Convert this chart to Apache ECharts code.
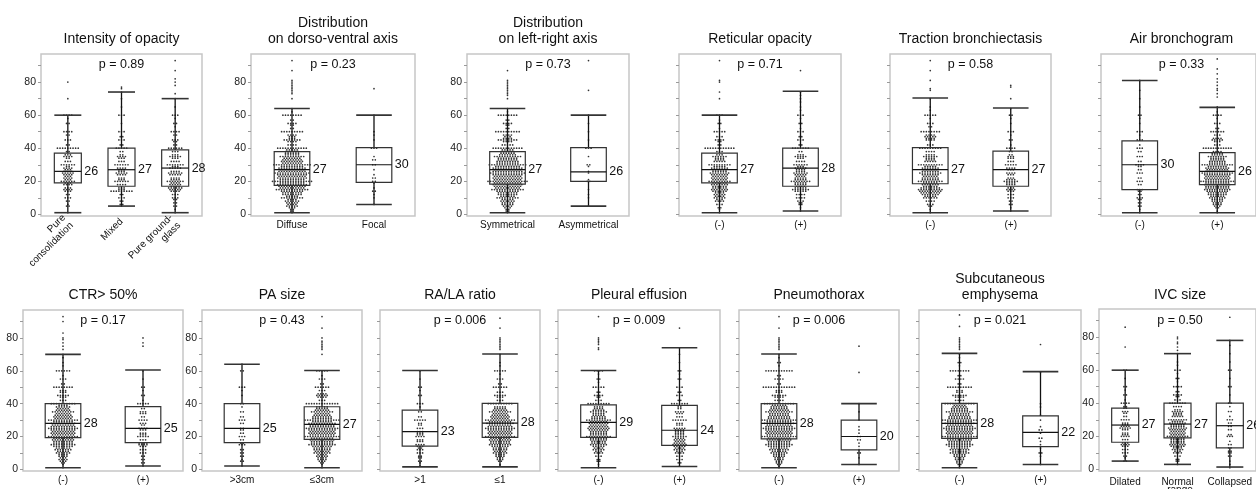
<!DOCTYPE html>
<html>
<head>
<meta charset="utf-8">
<script src="https://cdn.jsdelivr.net/npm/echarts@6/dist/echarts.min.js"></script>
<style>
html, body { margin: 0; padding: 0; background: #fff; }
#main { width: 1256px; height: 489px; }
</style>
</head>
<body>
<div id="main"></div>
<script>
var FONT = '"Liberation Sans", Arial, Helvetica, sans-serif';

// ---------------------------------------------------------------- data
var panelTitles = ['Intensity of opacity', 'Distribution\non dorso-ventral axis', 'Distribution\non left-right axis',
  'Reticular opacity', 'Traction bronchiectasis', 'Air bronchogram', 'CTR> 50%', 'PA size', 'RA/LA ratio',
  'Pleural effusion', 'Pneumothorax', 'Subcutaneous\nemphysema', 'IVC size'];

var panelCategories = [
  ['Pure\nconsolidation', 'Mixed', 'Pure ground-\nglass'],
  ['Diffuse', 'Focal'],
  ['Symmetrical', 'Asymmetrical'],
  ['(-)', '(+)'], ['(-)', '(+)'], ['(-)', '(+)'], ['(-)', '(+)'],
  ['>3cm', '≤3cm'],
  ['>1', '≤1'],
  ['(-)', '(+)'], ['(-)', '(+)'], ['(-)', '(+)'],
  ['Dilated', 'Normal', 'Collapsed']
];
// second line of the IVC "Normal range" label, cut by the picture edge
var ivcNormalSecondLine = 'range';

var pValues = ['0.89', '0.23', '0.73', '0.71', '0.58', '0.33', '0.17', '0.43', '0.006', '0.009', '0.006', '0.021', '0.50'];

var medianLabels = [[26, 27, 28], [27, 30], [27, 26], [27, 28], [27, 27], [30, 26], [28, 25], [25, 27], [23, 28],
  [29, 24], [28, 20], [28, 22], [27, 27, 26]];

// [low whisker, Q1, median, Q3, high whisker]
var boxStats = [
  [[1, 19, 26, 37, 60], [5, 17, 27, 40, 74], [1, 17, 28, 39, 70]],
  [[1, 17.5, 27, 38, 64], [6, 19.3, 30, 40.4, 60]],
  [[1, 18.3, 27, 38, 64], [5, 20, 25.7, 40.4, 60]],
  [[1, 19, 27, 37, 60], [2, 17, 28, 40, 74.5]],
  [[1, 18.5, 27, 40.4, 70.4], [2, 17, 27, 38.2, 64.3]],
  [[1, 15, 30, 44.4, 81], [1, 18, 26, 37.3, 64.7]],
  [[1, 19.3, 28, 40, 70], [2, 16.3, 25, 38.2, 60.5]],
  [[2, 16.3, 25, 40, 64], [1, 18.3, 27.4, 38.1, 60.2]],
  [[1.5, 14.2, 23, 36.1, 60.2], [1.5, 19.5, 28.2, 40.2, 70.2]],
  [[1, 19.5, 28.6, 39.2, 60.2], [1.7, 14.6, 23.8, 39, 74]],
  [[1, 18.5, 28, 40, 70.2], [3, 11.8, 20, 30, 40]],
  [[1, 18.9, 28, 40.2, 70.6], [3, 13.8, 22.5, 32.5, 59.5]],
  [[5, 16.4, 26.8, 37, 60], [3, 19, 27.4, 40, 70], [1.4, 13, 26.4, 40, 78]]
];

var outlierValues = [
  [[70, 80], [76, 77], [73, 78, 80, 82, 87, 93]],
  [[70, 73, 74, 75, 76, 77, 78, 79, 80, 81, 87, 93], [76]],
  [[70, 72, 73, 74, 75, 76, 77, 78, 79, 80, 81, 87], [75, 93]],
  [[70, 74, 80, 81, 93], [87]],
  [[75, 76, 81, 87, 93], [70, 77, 78]],
  [[], [71, 73, 75, 76, 78, 80, 82, 85, 88, 94]],
  [[73, 75, 77, 79, 80, 83, 90, 93], [75, 77, 80]],
  [[], [70, 73, 74, 75, 76, 77, 78, 80, 86, 93]],
  [[], [73, 74, 75, 76, 77, 78, 79, 80, 86, 92]],
  [[73, 74, 76, 77, 78, 79, 80, 93], [86]],
  [[73, 74, 75, 76, 77, 78, 79, 80, 86, 93], [59, 75]],
  [[73, 74, 75, 76, 77, 78, 79, 80, 87, 94], [76]],
  [[74, 86], [72, 74, 76, 77, 79, 80], [92]]
];

// dot rows inside the whiskers: [value, number of dots]
var swarmIntensity = [
  [[1,1],[5,2],[6,1],[8,2],[10,3],[12,2],[14,3],[15,4],[16,3],[18,4],[19,3],[20,6],[21,3],[22,4],[23,3],[24,4],[25,5],[26,4],[27,3],[28,4],[29,2],[30,6],[32,3],[34,2],[35,4],[36,3],[38,2],[40,9],[42,2],[45,3],[48,2],[50,4],[55,2],[58,1],[60,4]],
  [[5,1],[6,2],[8,2],[10,3],[12,2],[14,9],[15,3],[16,3],[18,4],[20,6],[21,3],[22,3],[24,4],[25,5],[26,3],[27,3],[28,4],[30,6],[32,3],[34,3],[35,4],[36,2],[38,2],[40,5],[42,2],[45,3],[47,2],[50,3],[55,1],[60,3],[65,1],[70,1],[74,1]],
  [[1,1],[3,1],[5,2],[7,2],[9,2],[10,3],[12,3],[14,4],[15,5],[16,6],[17,4],[18,5],[19,4],[20,7],[21,4],[22,4],[24,5],[25,6],[26,4],[28,5],[29,3],[30,7],[32,4],[34,3],[35,5],[36,3],[38,3],[40,6],[42,2],[44,2],[45,3],[48,2],[50,4],[53,1],[55,2],[58,1],[60,3],[65,1],[70,1]]
];
var swarmDorsoVentral = [
  [[1,1],[2,2],[3,2],[4,3],[5,5],[6,4],[7,5],[8,6],[9,4],[10,9],[11,5],[12,8],[13,8],[14,9],[15,13],[16,10],[17,11],[18,12],[19,10],[20,16],[21,10],[22,12],[23,11],[24,12],[25,14],[26,11],[27,10],[28,11],[29,9],[30,15],[31,8],[32,9],[33,8],[34,7],[35,10],[36,6],[37,6],[38,6],[39,5],[40,12],[42,4],[44,4],[45,7],[46,3],[47,3],[48,4],[50,9],[52,2],[54,2],[55,4],[57,2],[60,8],[62,1],[64,1]],
  [[6,1],[10,1],[12,1],[14,2],[16,1],[19,1],[20,2],[22,2],[24,1],[27,1],[30,2],[33,2],[35,1],[40,3],[45,1],[48,1],[50,1],[60,1]]
];
var swarmLeftRight = [
  [[1,1],[2,2],[3,2],[4,3],[5,4],[6,5],[7,5],[8,6],[9,5],[10,9],[11,6],[12,8],[13,8],[14,9],[15,13],[16,10],[17,11],[18,12],[19,11],[20,16],[21,11],[22,12],[23,11],[24,12],[25,14],[26,12],[27,11],[28,12],[29,10],[30,15],[31,9],[32,9],[33,8],[34,8],[35,11],[36,7],[37,6],[38,6],[39,5],[40,12],[42,5],[44,4],[45,8],[46,4],[47,3],[48,4],[50,10],[52,2],[54,2],[55,4],[57,2],[60,8],[62,1],[64,1]],
  [[5,1],[10,1],[12,1],[15,1],[20,2],[21,1],[25,1],[26,1],[29,1],[30,2],[35,1],[40,3],[45,1],[50,1],[55,1],[60,1]]
];
var swarmReticular = [
  [[1,1],[3,1],[4,2],[6,3],[8,4],[9,3],[10,5],[11,4],[12,5],[13,4],[14,6],[15,7],[16,6],[17,6],[18,7],[19,6],[20,9],[21,6],[22,7],[23,6],[24,7],[25,8],[26,6],[27,6],[28,7],[29,5],[30,9],[32,5],[33,4],[34,4],[35,6],[36,3],[38,3],[40,12],[42,2],[44,2],[45,4],[47,3],[50,5],[52,1],[55,2],[57,1],[60,3]],
  [[2,1],[4,1],[6,2],[7,2],[8,3],[10,4],[12,4],[14,5],[15,7],[16,5],[17,4],[18,5],[19,5],[20,8],[21,5],[22,5],[23,4],[24,5],[25,6],[26,4],[27,4],[28,5],[29,3],[30,6],[32,4],[34,3],[35,5],[36,3],[38,2],[40,7],[42,2],[45,3],[47,2],[50,3],[52,1],[55,2],[58,1],[60,3],[63,1],[65,1],[68,1],[70,1],[72,1],[74,1]]
];
var swarmTraction = [
  [[1,1],[3,1],[5,2],[6,3],[8,4],[10,6],[11,5],[12,7],[13,8],[14,9],[15,10],[16,8],[17,6],[18,7],[19,6],[20,10],[21,7],[22,7],[23,6],[24,7],[25,9],[26,7],[27,6],[28,7],[29,5],[30,10],[32,5],[33,4],[34,4],[35,6],[36,4],[38,4],[40,9],[42,3],[45,4],[46,4],[47,5],[48,4],[50,8],[53,2],[55,3],[58,1],[60,5],[63,1],[65,1],[70,1]],
  [[2,1],[4,1],[6,2],[8,2],[10,3],[12,3],[14,3],[15,4],[16,3],[18,4],[19,4],[20,6],[21,4],[22,3],[24,3],[25,4],[27,3],[28,4],[30,5],[32,3],[34,3],[35,3],[36,2],[38,2],[40,4],[42,1],[45,2],[48,1],[50,3],[55,1],[58,1],[60,2],[64,1]]
];
var swarmAirBronchogram = [
  [[1,1],[3,1],[5,2],[7,2],[9,2],[10,3],[12,2],[14,2],[15,3],[18,2],[20,3],[22,2],[25,3],[27,2],[29,2],[30,4],[32,2],[35,3],[38,2],[40,3],[42,1],[45,3],[48,1],[50,3],[55,1],[58,1],[60,2],[65,1],[70,1],[75,1],[81,1]],
  [[1,1],[2,1],[4,2],[5,3],[6,4],[7,4],[8,5],[9,5],[10,7],[11,6],[12,8],[13,8],[14,9],[15,11],[16,10],[17,10],[18,11],[19,10],[20,14],[21,10],[22,11],[23,10],[24,11],[25,13],[26,10],[27,9],[28,10],[29,8],[30,13],[31,7],[32,7],[33,6],[34,6],[35,8],[36,5],[37,5],[38,4],[40,12],[42,3],[44,3],[45,5],[46,4],[48,3],[50,6],[52,2],[55,3],[58,1],[60,4],[62,1],[65,1]]
];
var swarmCTR = [
  [[1,1],[3,1],[4,2],[5,3],[6,4],[7,3],[8,4],[9,4],[10,6],[11,5],[12,7],[13,6],[14,8],[15,10],[16,8],[17,8],[18,9],[19,8],[20,12],[21,9],[22,10],[23,9],[24,10],[25,12],[26,10],[27,9],[28,10],[29,8],[30,12],[31,7],[32,8],[33,7],[34,6],[35,9],[36,6],[37,5],[38,6],[39,4],[40,10],[42,3],[44,3],[45,5],[47,3],[48,3],[50,8],[52,2],[55,3],[57,1],[60,6],[63,1],[65,1],[68,1],[70,1]],
  [[2,1],[4,2],[6,2],[8,2],[10,3],[12,3],[14,3],[15,4],[16,4],[18,3],[20,5],[21,3],[22,3],[24,3],[25,4],[27,2],[28,3],[30,4],[32,2],[34,3],[35,3],[37,2],[40,5],[42,1],[45,2],[48,1],[50,2],[55,1],[60,1]]
];
var swarmPASize = [
  [[2,1],[5,2],[6,1],[8,2],[10,2],[12,2],[15,3],[16,2],[18,2],[20,3],[22,2],[24,2],[25,2],[28,2],[30,3],[32,2],[35,2],[38,1],[40,2],[45,1],[48,1],[50,3],[60,2],[64,1]],
  [[1,1],[3,1],[4,2],[5,3],[6,4],[7,4],[8,5],[9,4],[10,7],[11,6],[12,7],[13,7],[14,8],[15,11],[16,9],[17,9],[18,10],[19,9],[20,14],[21,10],[22,11],[23,10],[24,11],[25,13],[26,10],[27,10],[28,11],[29,8],[30,14],[31,8],[32,8],[33,7],[34,6],[35,9],[36,6],[37,5],[38,5],[40,13],[42,3],[44,4],[45,5],[46,4],[48,3],[50,6],[52,2],[55,3],[57,1],[60,5]]
];
var swarmRALA = [
  [[2,1],[4,1],[5,2],[7,2],[8,2],[10,3],[12,3],[13,2],[14,3],[15,4],[17,3],[18,3],[20,4],[21,3],[22,3],[23,3],[25,3],[27,2],[28,2],[30,5],[32,2],[35,2],[38,1],[40,3],[45,2],[48,1],[50,2],[55,1],[60,1]],
  [[2,1],[3,1],[5,2],[6,3],[7,3],[8,4],[9,4],[10,6],[11,5],[12,6],[13,6],[14,7],[15,9],[16,8],[17,8],[18,9],[19,8],[20,12],[21,9],[22,10],[23,9],[24,10],[25,12],[26,10],[27,9],[28,11],[29,9],[30,12],[31,7],[32,8],[33,7],[34,6],[35,9],[36,6],[37,5],[38,5],[40,10],[42,3],[44,3],[45,5],[47,3],[50,6],[52,2],[55,3],[58,1],[60,5],[63,1],[65,1],[70,1]]
];
var swarmPleural = [
  [[1,1],[3,1],[5,2],[6,2],[8,3],[10,4],[11,3],[12,5],[13,4],[14,5],[15,7],[16,6],[17,6],[18,7],[19,7],[20,10],[21,7],[22,7],[23,7],[24,8],[25,9],[26,8],[27,7],[28,8],[29,7],[30,10],[31,6],[32,6],[33,5],[34,5],[35,7],[36,5],[37,4],[38,4],[40,9],[42,3],[44,2],[45,4],[47,2],[50,5],[53,1],[55,2],[58,1],[60,4]],
  [[2,1],[4,2],[6,3],[8,3],[10,4],[11,3],[12,5],[13,4],[14,5],[15,6],[16,5],[17,4],[18,5],[19,4],[20,6],[21,4],[22,4],[23,4],[24,4],[25,5],[27,3],[28,3],[30,6],[32,3],[34,3],[35,4],[37,2],[38,2],[40,7],[42,2],[45,3],[47,2],[50,3],[55,2],[58,1],[60,2],[65,1],[70,1],[74,1]]
];
var swarmPneumothorax = [
  [[1,1],[2,1],[3,2],[4,3],[5,3],[6,4],[7,4],[8,5],[9,5],[10,7],[11,6],[12,8],[13,7],[14,9],[15,11],[16,9],[17,9],[18,10],[19,9],[20,14],[21,10],[22,11],[23,10],[24,11],[25,13],[26,11],[27,10],[28,12],[29,10],[30,14],[31,9],[32,9],[33,8],[34,8],[35,11],[36,8],[37,7],[38,7],[39,6],[40,12],[42,4],[44,4],[45,6],[47,3],[48,3],[50,13],[52,2],[55,4],[57,2],[60,11],[63,1],[65,2],[68,1],[70,1]],
  [[3,1],[7,1],[10,2],[12,1],[14,1],[16,1],[18,2],[20,2],[22,1],[24,1],[26,1],[30,1],[35,1],[40,1]]
];
var swarmSubcutaneous = [
  [[1,1],[2,1],[3,2],[4,3],[5,3],[6,4],[7,4],[8,5],[9,5],[10,8],[11,6],[12,8],[13,7],[14,9],[15,11],[16,9],[17,9],[18,10],[19,10],[20,14],[21,10],[22,11],[23,10],[24,11],[25,13],[26,11],[27,10],[28,12],[29,10],[30,14],[31,9],[32,9],[33,8],[34,8],[35,11],[36,7],[37,7],[38,6],[39,5],[40,12],[42,4],[44,4],[45,6],[47,3],[48,3],[50,10],[52,2],[55,4],[57,2],[60,8],[63,1],[65,2],[68,1],[70,1]],
  [[3,1],[8,1],[10,2],[13,1],[15,1],[17,1],[19,2],[22,1],[24,2],[26,1],[30,1],[33,1],[38,1],[40,1],[59,1]]
];
var swarmIVC = [
  [[5,2],[7,1],[8,2],[10,3],[12,3],[14,3],[15,4],[16,3],[18,3],[20,4],[21,3],[22,3],[24,3],[25,5],[26,4],[27,3],[28,3],[30,4],[32,2],[34,2],[35,3],[37,2],[38,2],[40,4],[42,1],[45,2],[48,1],[50,2],[55,1],[60,2]],
  [[3,1],[5,2],[6,2],[8,3],[10,4],[11,3],[12,5],[13,4],[14,6],[15,7],[16,6],[17,6],[18,6],[19,6],[20,9],[21,6],[22,7],[23,6],[24,7],[25,8],[26,6],[27,6],[28,7],[29,5],[30,8],[32,5],[33,4],[34,4],[35,5],[36,3],[38,4],[40,7],[42,3],[44,2],[45,4],[47,2],[50,4],[53,1],[55,2],[58,1],[60,3],[63,1],[65,1],[70,1]],
  [[1,1],[3,1],[5,1],[8,2],[10,2],[11,2],[13,2],[15,2],[17,1],[20,3],[21,2],[24,2],[26,2],[28,2],[30,3],[32,1],[35,2],[38,1],[40,2],[45,1],[50,2],[55,1],[60,2],[65,1],[70,1],[75,1],[78,1]]
];
var swarms = [swarmIntensity, swarmDorsoVentral, swarmLeftRight, swarmReticular, swarmTraction, swarmAirBronchogram,
  swarmCTR, swarmPASize, swarmRALA, swarmPleural, swarmPneumothorax, swarmSubcutaneous, swarmIVC];

// ---------------------------------------------------------------- layout
// plot frame of every panel: left, top, width, height (px)
var panelBoxes = [
  [41, 54, 161, 162], [251, 54, 164, 162], [467, 54, 162, 162], [679, 54, 162, 162], [890, 54, 161, 162], [1101, 54, 161, 162],
  [23, 310, 160, 161], [202, 310, 160, 161], [380, 310, 160, 161], [558, 310, 162, 161], [739, 310, 160, 161], [919, 310, 162, 161], [1099, 309, 162, 162]
];
var showYLabels = [true, true, true, false, false, false, true, true, false, false, false, false, true];
var DOT_GAP = 2.6;

function makeBoxRenderer(half, gap) {
  return function (params, api) {
    var x = api.value(0);
    var lo = api.coord([x, api.value(1)]);
    var q1 = api.coord([x, api.value(2)]);
    var md = api.coord([x, api.value(3)]);
    var q3 = api.coord([x, api.value(4)]);
    var hi = api.coord([x, api.value(5)]);
    var cx = lo[0];
    var seg = function (x1, y1, x2, y2, w, c) {
      return { type: 'line', shape: { x1: x1, y1: y1, x2: x2, y2: y2 }, style: { stroke: c, lineWidth: w } };
    };
    return {
      type: 'group',
      children: [
        seg(cx, q1[1], cx, lo[1], 1.3, '#111'),
        seg(cx, hi[1], cx, q3[1], 1.3, '#111'),
        seg(cx - half, lo[1], cx + half, lo[1], 1.6, '#333'),
        seg(cx - half, hi[1], cx + half, hi[1], 1.6, '#333'),
        { type: 'rect', shape: { x: cx - half, y: q3[1], width: 2 * half, height: q1[1] - q3[1] },
          style: { fill: 'none', stroke: '#333', lineWidth: 1.2 } },
        seg(cx - half, md[1], cx + half, md[1], 1.2, '#111'),
        { type: 'text', style: { text: String(api.value(6)), x: cx + half + gap, y: md[1],
          textAlign: 'left', textVerticalAlign: 'middle', align: 'left', verticalAlign: 'middle',
          font: '12.5px ' + FONT, fill: '#111' } }
      ]
    };
  };
}

var option = { animation: false, grid: [], xAxis: [], yAxis: [], series: [], graphic: [] };

panelBoxes.forEach(function (b, p) {
  var cats = panelCategories[p];
  var n = cats.length;
  var top = p < 6;
  var cx = b[0] + b[2] / 2;

  option.grid.push({ left: b[0], top: b[1], width: b[2], height: b[3], show: true,
    borderColor: '#c6c6c6', borderWidth: 1.5, backgroundColor: 'transparent' });

  option.xAxis.push({
    gridIndex: p, type: 'value', min: 0.5, max: n + 0.5,
    axisLine: { show: false }, axisTick: { show: false }, splitLine: { show: false },
    axisLabel: {
      customValues: cats.map(function (c, i) { return i + 1; }),
      formatter: function (v) { return cats[Math.round(v) - 1]; },
      fontFamily: FONT, fontSize: 10, color: '#111', margin: p === 12 ? 6 : 4, lineHeight: 11,
      rotate: p === 0 ? 45 : 0
    }
  });

  option.yAxis.push({
    gridIndex: p, type: 'value', min: -1, max: 97,
    axisLine: { show: false }, splitLine: { show: false },
    axisTick: { show: true, length: 3, customValues: [0, 10, 20, 30, 40, 50, 60, 70, 80, 90],
      lineStyle: { color: '#9a9a9a', width: 1 } },
    axisLabel: { show: showYLabels[p], customValues: [0, 20, 40, 60, 80],
      fontFamily: FONT, fontSize: 10.5, color: '#222', margin: 5 }
  });

  // dots
  var pxPerUnit = b[2] / n;
  var pts = [];
  swarms[p].forEach(function (rows, g) {
    rows.forEach(function (r) {
      for (var k = 0; k < r[1]; k++) {
        pts.push([g + 1 + (k - (r[1] - 1) / 2) * DOT_GAP / pxPerUnit, r[0]]);
      }
    });
  });
  outlierValues[p].forEach(function (vals, g) {
    vals.forEach(function (v) { pts.push([g + 1, v]); });
  });
  option.series.push({
    type: 'scatter', xAxisIndex: p, yAxisIndex: p, data: pts, symbolSize: 1.7, silent: true,
    itemStyle: { color: '#000' }, z: 2
  });

  // boxes
  option.series.push({
    type: 'custom', xAxisIndex: p, yAxisIndex: p, silent: true, clip: false, z: 3,
    renderItem: makeBoxRenderer(n === 3 ? 13.5 : 17.8, 3),
    encode: { x: 0, y: [1, 2, 3, 4, 5] },
    data: boxStats[p].map(function (s, i) { return [i + 1, s[0], s[1], s[2], s[3], s[4], medianLabels[p][i]]; })
  });

  // title and p value
  option.graphic.push({
    type: 'text', x: cx, y: top ? 47 : 303, silent: true,
    style: { text: panelTitles[p], textAlign: 'center', textVerticalAlign: 'bottom', align: 'center', verticalAlign: 'bottom',
      font: '14px ' + FONT, lineHeight: 16, fill: '#111' }
  });
  option.graphic.push({
    type: 'text', x: cx, y: top ? 65 : 321, silent: true,
    style: { text: 'p = ' + pValues[p], textAlign: 'center', textVerticalAlign: 'middle', align: 'center', verticalAlign: 'middle',
      font: '12.5px ' + FONT, fill: '#111' }
  });
});

// cut-off second line under "Normal"
var ivcBox = panelBoxes[12];
option.graphic.push({
  type: 'text', x: ivcBox[0] + ivcBox[2] / 2, y: 485, silent: true,
  style: { text: ivcNormalSecondLine, textAlign: 'center', textVerticalAlign: 'top', align: 'center', verticalAlign: 'top',
    font: '10px ' + FONT, fill: '#111' }
});

var chart = echarts.init(document.getElementById('main'), null, { renderer: 'canvas' });
chart.setOption(option);
</script>
</body>
</html>
